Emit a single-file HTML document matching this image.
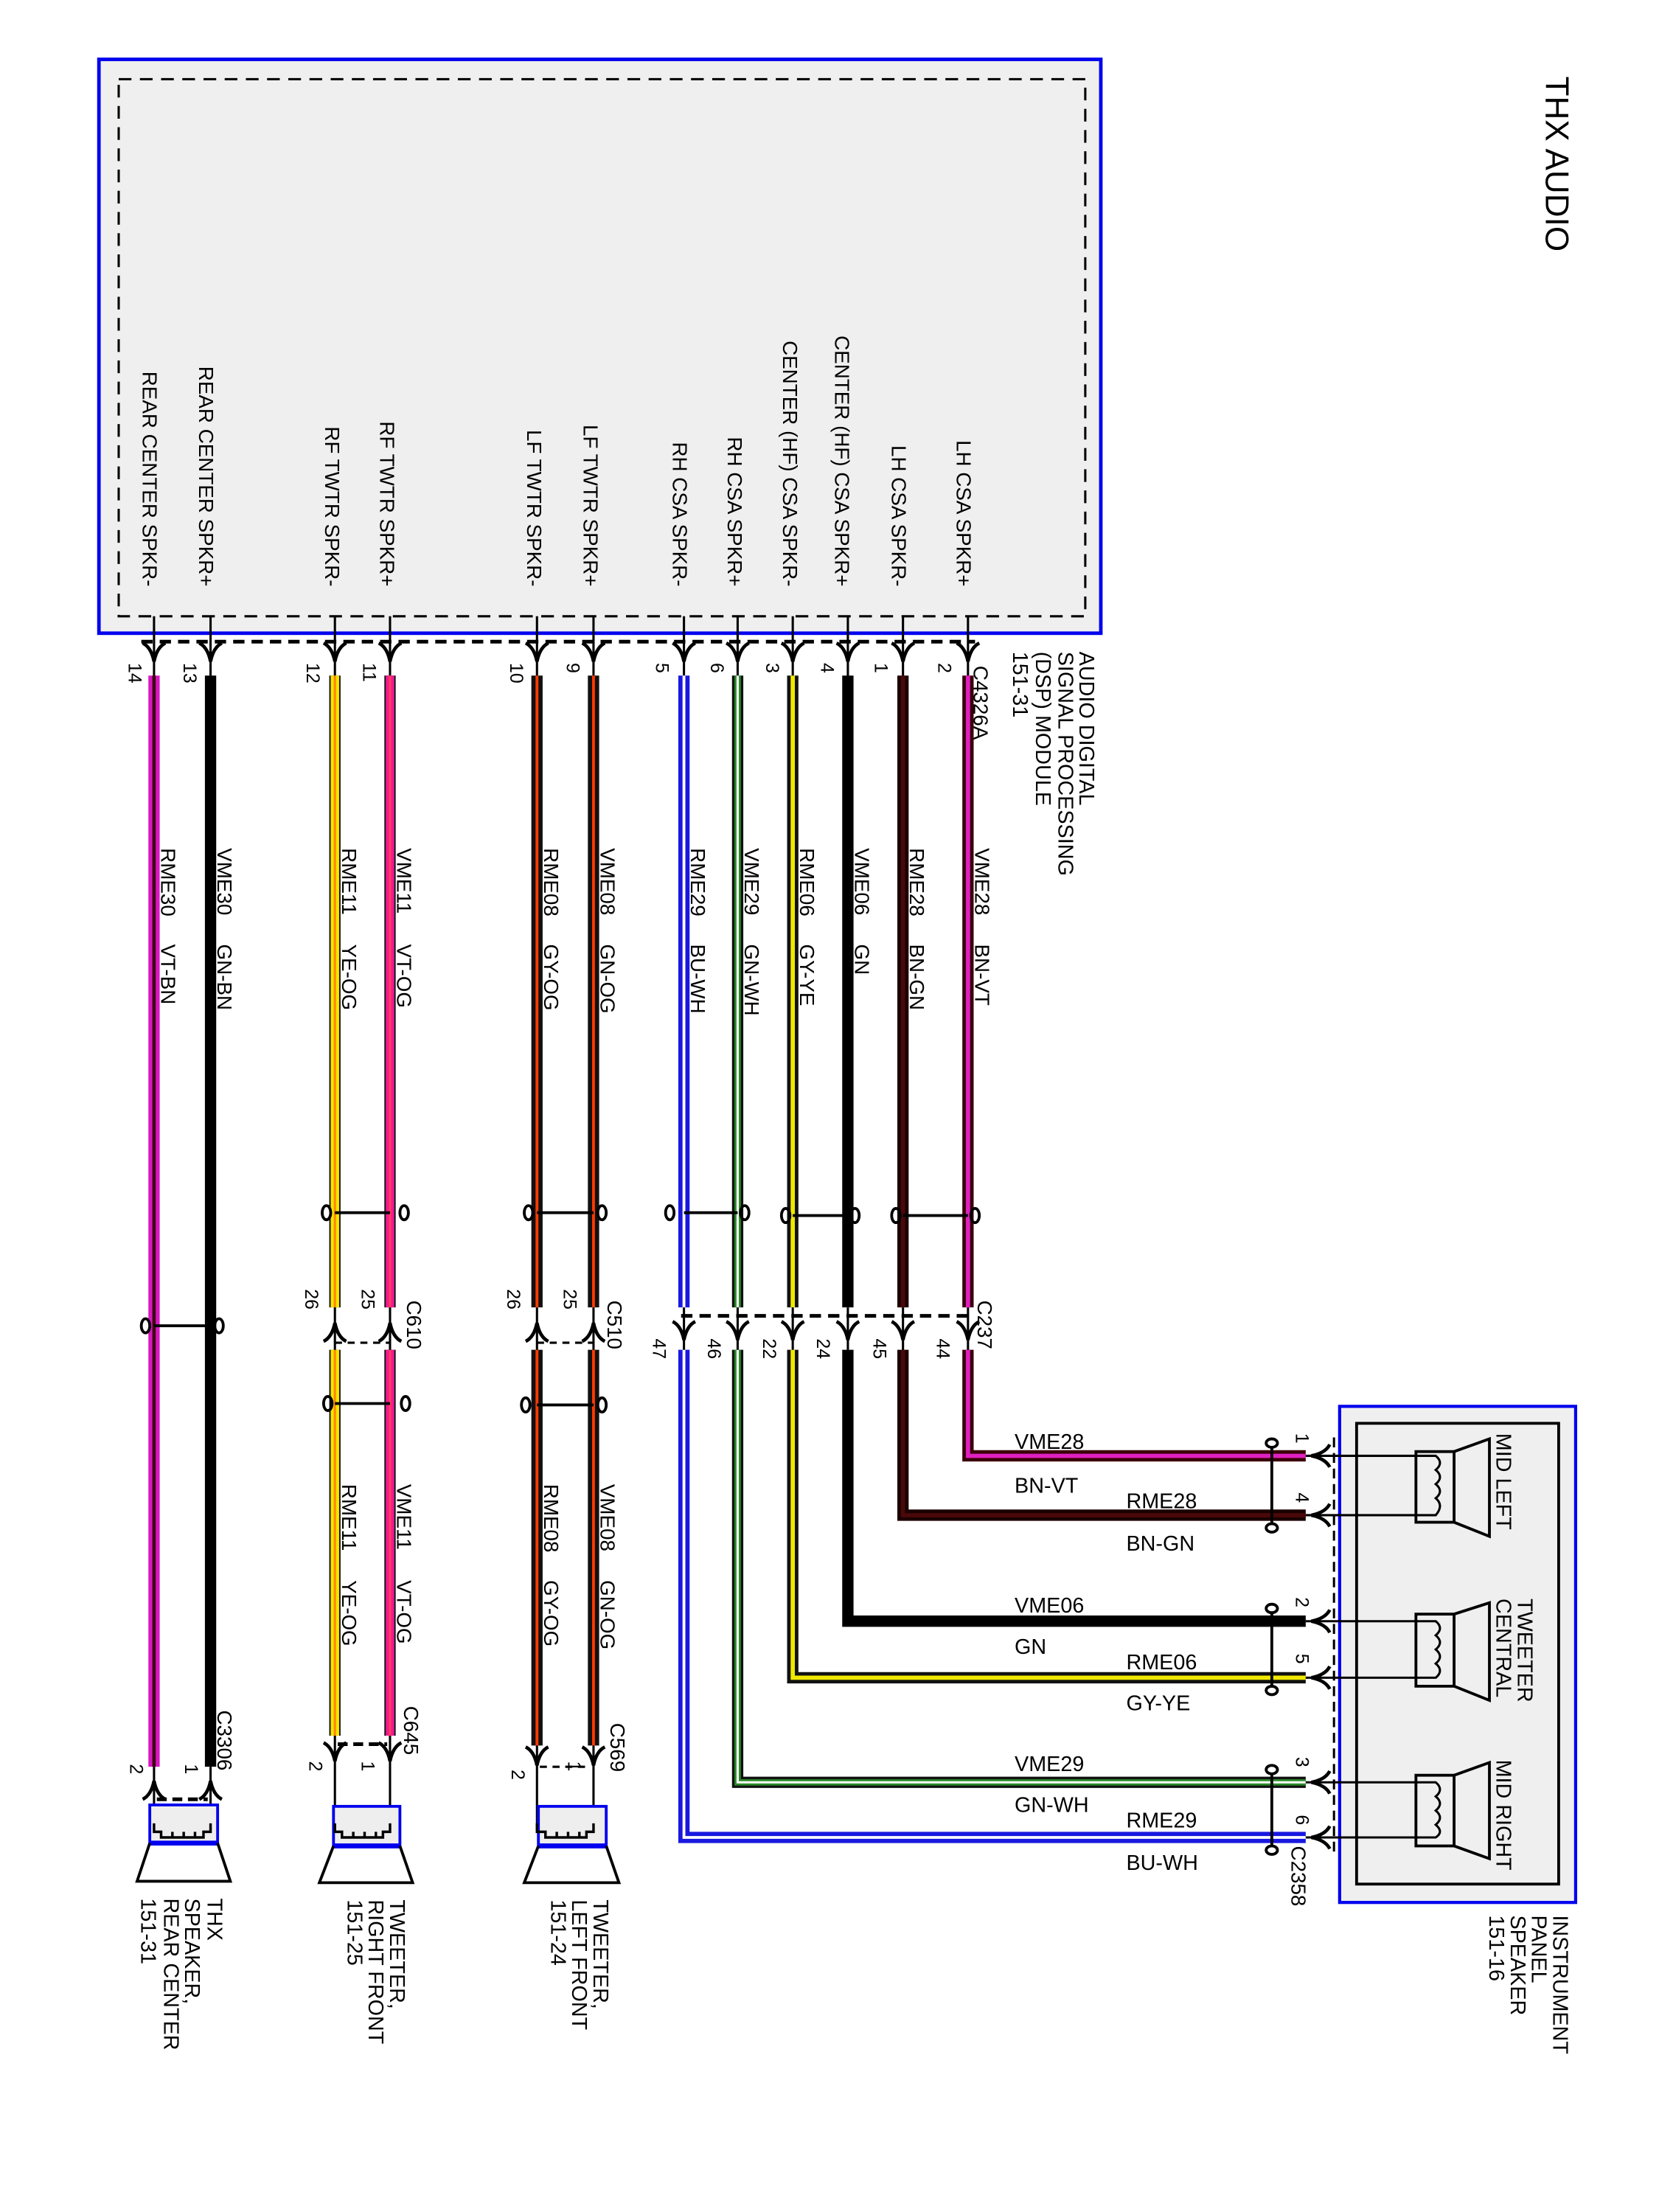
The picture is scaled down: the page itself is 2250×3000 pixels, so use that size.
<!DOCTYPE html>
<html><head><meta charset="utf-8"><style>
html,body{margin:0;padding:0;background:#fff}
svg{display:block}
text{font-family:"Liberation Sans",Arial,sans-serif;fill:#000}
</style></head><body>
<svg width="2250" height="3000" viewBox="0 0 1174 1565" preserveAspectRatio="none" xmlns="http://www.w3.org/2000/svg">
<defs>
<path id="ad" d="M-8,-7 Q-2,-4 0,6 Q2,-4 8,-7" fill="none" stroke="#000" stroke-width="2.4"/>
<path id="au" d="M-8,7 Q-2,4 0,-6 Q2,4 8,7" fill="none" stroke="#000" stroke-width="2.4"/>
<path id="al" d="M7,-8 Q4,-2 -6,0 Q4,2 7,8" fill="none" stroke="#000" stroke-width="2.4"/>
</defs>
<rect width="1174" height="1565" fill="#fff"/>

<!-- Title -->
<text transform="translate(1094,54) rotate(90)" font-size="23">THX AUDIO</text>

<!-- Module box -->
<rect x="70" y="42" width="709" height="406" fill="#efefef" stroke="#0000ee" stroke-width="2.5"/>
<rect x="84" y="56" width="684" height="380" fill="none" stroke="#000" stroke-width="1.6" stroke-dasharray="9,6"/>

<g font-size="14.5">
<text transform="translate(677,415) rotate(90)" text-anchor="end">LH CSA SPKR+</text>
<text transform="translate(631,415) rotate(90)" text-anchor="end">LH CSA SPKR-</text>
<text transform="translate(591,415) rotate(90)" text-anchor="end">CENTER (HF) CSA SPKR+</text>
<text transform="translate(554,415) rotate(90)" text-anchor="end">CENTER (HF) CSA SPKR-</text>
<text transform="translate(515,415) rotate(90)" text-anchor="end">RH CSA SPKR+</text>
<text transform="translate(476,415) rotate(90)" text-anchor="end">RH CSA SPKR-</text>
<text transform="translate(413,415) rotate(90)" text-anchor="end">LF TWTR SPKR+</text>
<text transform="translate(373,415) rotate(90)" text-anchor="end">LF TWTR SPKR-</text>
<text transform="translate(269,415) rotate(90)" text-anchor="end">RF TWTR SPKR+</text>
<text transform="translate(230,415) rotate(90)" text-anchor="end">RF TWTR SPKR-</text>
<text transform="translate(141,415) rotate(90)" text-anchor="end">REAR CENTER SPKR+</text>
<text transform="translate(101,415) rotate(90)" text-anchor="end">REAR CENTER SPKR-</text>
</g>

<!-- header dashed line -->
<line x1="100" y1="454" x2="690" y2="454" stroke="#000" stroke-width="2.6" stroke-dasharray="8,5"/>

<!-- thin pin lines from box -->
<g stroke="#000" stroke-width="1.6">
<line x1="685" y1="436" x2="685" y2="480"/><line x1="639" y1="436" x2="639" y2="480"/>
<line x1="600" y1="436" x2="600" y2="480"/><line x1="561" y1="436" x2="561" y2="480"/>
<line x1="522" y1="436" x2="522" y2="480"/><line x1="484" y1="436" x2="484" y2="480"/>
<line x1="420" y1="436" x2="420" y2="480"/><line x1="380" y1="436" x2="380" y2="480"/>
<line x1="276" y1="436" x2="276" y2="480"/><line x1="237" y1="436" x2="237" y2="480"/>
<line x1="149" y1="436" x2="149" y2="480"/><line x1="109" y1="436" x2="109" y2="480"/>
</g>
<g>
<use href="#ad" x="685" y="462"/><use href="#ad" x="639" y="462"/><use href="#ad" x="600" y="462"/>
<use href="#ad" x="561" y="462"/><use href="#ad" x="522" y="462"/><use href="#ad" x="484" y="462"/>
<use href="#ad" x="420" y="462"/><use href="#ad" x="380" y="462"/><use href="#ad" x="276" y="462"/>
<use href="#ad" x="237" y="462"/><use href="#ad" x="149" y="462"/><use href="#ad" x="109" y="462"/>
</g>
<g font-size="13">
<text transform="translate(664,469) rotate(90)">2</text>
<text transform="translate(619,469) rotate(90)">1</text>
<text transform="translate(581,469) rotate(90)">4</text>
<text transform="translate(542,469) rotate(90)">3</text>
<text transform="translate(503,469) rotate(90)">6</text>
<text transform="translate(464,469) rotate(90)">5</text>
<text transform="translate(401,469) rotate(90)">9</text>
<text transform="translate(361,469) rotate(90)">10</text>
<text transform="translate(257,469) rotate(90)">11</text>
<text transform="translate(217,469) rotate(90)">12</text>
<text transform="translate(130,469) rotate(90)">13</text>
<text transform="translate(91,469) rotate(90)">14</text>
<text transform="translate(689,471) rotate(90)" font-size="14.5">C4326A</text>
</g>
<g font-size="15">
<text transform="translate(764,461) rotate(90)">AUDIO DIGITAL</text>
<text transform="translate(749,461) rotate(90)">SIGNAL PROCESSING</text>
<text transform="translate(733,461) rotate(90)">(DSP) MODULE</text>
<text transform="translate(717,461) rotate(90)">151-31</text>
</g>

<!-- WIRES -->
<g fill="none" stroke-linejoin="miter">
<!-- VME28 BN-VT -->
<path d="M685,478V925M685,955V1030H924" stroke="#3a0008" stroke-width="8"/>
<path d="M685,478V925M685,955V1030H924" stroke="#e020c0" stroke-width="3"/>
<!-- RME28 BN-GN -->
<path d="M639,478V925M639,955V1072H924" stroke="#1a0000" stroke-width="8"/>
<path d="M639,478V925M639,955V1072H924" stroke="#4a0808" stroke-width="3"/>
<!-- VME06 GN -->
<path d="M600,478V925M600,955V1147H924" stroke="#000" stroke-width="8"/>
<!-- RME06 GY-YE -->
<path d="M561,478V925M561,955V1187H924" stroke="#111" stroke-width="8"/>
<path d="M561,478V925M561,955V1187H924" stroke="#f0e800" stroke-width="3"/>
<!-- VME29 GN-WH -->
<path d="M522,478V925M522,955V1261H924" stroke="#111" stroke-width="8"/>
<path d="M522,478V925M522,955V1261H924" stroke="#2a8a2a" stroke-width="4.5"/>
<path d="M522,478V925M522,955V1261H924" stroke="#fff" stroke-width="1.6"/>
<!-- RME29 BU-WH -->
<path d="M484,478V925M484,955V1300H924" stroke="#1818e0" stroke-width="8"/>
<path d="M484,478V925M484,955V1300H924" stroke="#fff" stroke-width="2"/>
<!-- VME08 / RME08 -->
<path d="M420,478V925M420,955V1235" stroke="#111" stroke-width="8"/>
<path d="M420,478V925M420,955V1235" stroke="#ff3a00" stroke-width="2"/>
<path d="M380,478V925M380,955V1235" stroke="#111" stroke-width="8"/>
<path d="M380,478V925M380,955V1235" stroke="#ff3a00" stroke-width="2"/>
<!-- VME11 / RME11 -->
<path d="M276,478V925M276,955V1228" stroke="#111" stroke-width="8"/>
<path d="M276,478V925M276,955V1228" stroke="#f01898" stroke-width="6"/>
<path d="M276,478V925M276,955V1228" stroke="#ff4050" stroke-width="1.6"/>
<path d="M237,478V925M237,955V1228" stroke="#111" stroke-width="8"/>
<path d="M237,478V925M237,955V1228" stroke="#f5e400" stroke-width="6"/>
<path d="M237,478V925M237,955V1228" stroke="#ff8800" stroke-width="1.6"/>
<!-- VME30 / RME30 -->
<path d="M149,478V1250" stroke="#000" stroke-width="8"/>
<path d="M109,478V1250" stroke="#d818c0" stroke-width="8"/>
<path d="M109,478V1250" stroke="#3a0010" stroke-width="2.4"/>
</g>

<!-- wire labels (vertical) -->
<g font-size="14.5">
<text transform="translate(690,600) rotate(90)">VME28</text><text transform="translate(690,668) rotate(90)">BN-VT</text>
<text transform="translate(644,600) rotate(90)">RME28</text><text transform="translate(644,668) rotate(90)">BN-GN</text>
<text transform="translate(605,600) rotate(90)">VME06</text><text transform="translate(605,668) rotate(90)">GN</text>
<text transform="translate(566,600) rotate(90)">RME06</text><text transform="translate(566,668) rotate(90)">GY-YE</text>
<text transform="translate(527,600) rotate(90)">VME29</text><text transform="translate(527,668) rotate(90)">GN-WH</text>
<text transform="translate(489,600) rotate(90)">RME29</text><text transform="translate(489,668) rotate(90)">BU-WH</text>
<text transform="translate(425,600) rotate(90)">VME08</text><text transform="translate(425,668) rotate(90)">GN-OG</text>
<text transform="translate(385,600) rotate(90)">RME08</text><text transform="translate(385,668) rotate(90)">GY-OG</text>
<text transform="translate(281,600) rotate(90)">VME11</text><text transform="translate(281,668) rotate(90)">VT-OG</text>
<text transform="translate(242,600) rotate(90)">RME11</text><text transform="translate(242,668) rotate(90)">YE-OG</text>
<text transform="translate(154,600) rotate(90)">VME30</text><text transform="translate(154,668) rotate(90)">GN-BN</text>
<text transform="translate(114,600) rotate(90)">RME30</text><text transform="translate(114,668) rotate(90)">VT-BN</text>
<text transform="translate(425,1050) rotate(90)">VME08</text><text transform="translate(425,1118) rotate(90)">GN-OG</text>
<text transform="translate(385,1050) rotate(90)">RME08</text><text transform="translate(385,1118) rotate(90)">GY-OG</text>
<text transform="translate(281,1050) rotate(90)">VME11</text><text transform="translate(281,1118) rotate(90)">VT-OG</text>
<text transform="translate(242,1050) rotate(90)">RME11</text><text transform="translate(242,1118) rotate(90)">YE-OG</text>
</g>

<!-- twist markers -->
<g fill="none" stroke="#000" stroke-width="2">
<line x1="639" y1="860" x2="685" y2="860"/><ellipse cx="634" cy="860" rx="3" ry="5"/><ellipse cx="690" cy="860" rx="3" ry="5"/>
<line x1="561" y1="860" x2="600" y2="860"/><ellipse cx="556" cy="860" rx="3" ry="5"/><ellipse cx="605" cy="860" rx="3" ry="5"/>
<line x1="484" y1="858" x2="522" y2="858"/><ellipse cx="474" cy="858" rx="3" ry="5"/><ellipse cx="527" cy="858" rx="3" ry="5"/>
<line x1="380" y1="858" x2="420" y2="858"/><ellipse cx="374" cy="858" rx="3" ry="5"/><ellipse cx="426" cy="858" rx="3" ry="5"/>
<line x1="237" y1="858" x2="276" y2="858"/><ellipse cx="231" cy="858" rx="3" ry="5"/><ellipse cx="286" cy="858" rx="3" ry="5"/>
<line x1="109" y1="938" x2="149" y2="938"/><ellipse cx="103" cy="938" rx="3" ry="5"/><ellipse cx="155" cy="938" rx="3" ry="5"/>
<line x1="380" y1="994" x2="420" y2="994"/><ellipse cx="372" cy="994" rx="3" ry="5"/><ellipse cx="426" cy="994" rx="3" ry="5"/>
<line x1="237" y1="993" x2="276" y2="993"/><ellipse cx="232" cy="993" rx="3" ry="5"/><ellipse cx="287" cy="993" rx="3" ry="5"/>
<line x1="900" y1="1024" x2="900" y2="1078"/><ellipse cx="900" cy="1021" rx="4" ry="3"/><ellipse cx="900" cy="1081" rx="4" ry="3"/>
<line x1="900" y1="1141" x2="900" y2="1193"/><ellipse cx="900" cy="1138" rx="4" ry="3"/><ellipse cx="900" cy="1196" rx="4" ry="3"/>
<line x1="900" y1="1255" x2="900" y2="1306"/><ellipse cx="900" cy="1252" rx="4" ry="3"/><ellipse cx="900" cy="1309" rx="4" ry="3"/>
</g>

<!-- C237 -->
<g stroke="#000" stroke-width="1.6">
<line x1="685" y1="925" x2="685" y2="955"/><line x1="639" y1="925" x2="639" y2="955"/>
<line x1="600" y1="925" x2="600" y2="955"/><line x1="561" y1="925" x2="561" y2="955"/>
<line x1="522" y1="925" x2="522" y2="955"/><line x1="484" y1="925" x2="484" y2="955"/>
<line x1="420" y1="925" x2="420" y2="955"/><line x1="380" y1="925" x2="380" y2="955"/>
<line x1="276" y1="925" x2="276" y2="955"/><line x1="237" y1="925" x2="237" y2="955"/>
</g>
<line x1="482" y1="931" x2="688" y2="931" stroke="#000" stroke-width="2.6" stroke-dasharray="8,5"/>
<line x1="380" y1="950" x2="420" y2="950" stroke="#000" stroke-width="1.6" stroke-dasharray="5,4"/>
<line x1="237" y1="950" x2="276" y2="950" stroke="#000" stroke-width="1.6" stroke-dasharray="5,4"/>
<use href="#ad" x="685" y="942"/><use href="#ad" x="639" y="942"/><use href="#ad" x="600" y="942"/>
<use href="#ad" x="561" y="942"/><use href="#ad" x="522" y="942"/><use href="#ad" x="484" y="942"/>
<use href="#au" x="420" y="942"/><use href="#au" x="380" y="942"/><use href="#au" x="276" y="942"/><use href="#au" x="237" y="942"/>
<g font-size="13">
<text transform="translate(663,947) rotate(90)">44</text>
<text transform="translate(618,947) rotate(90)">45</text>
<text transform="translate(578,947) rotate(90)">24</text>
<text transform="translate(540,947) rotate(90)">22</text>
<text transform="translate(501,947) rotate(90)">46</text>
<text transform="translate(462,947) rotate(90)">47</text>
<text transform="translate(399,912) rotate(90)">25</text>
<text transform="translate(359,912) rotate(90)">26</text>
<text transform="translate(256,912) rotate(90)">25</text>
<text transform="translate(216,912) rotate(90)">26</text>
<text transform="translate(92,1248) rotate(90)">2</text>
<text transform="translate(131,1248) rotate(90)">1</text>
<text transform="translate(219,1246) rotate(90)">2</text>
<text transform="translate(256,1246) rotate(90)">1</text>
<text transform="translate(362,1252) rotate(90)">2</text>
<text transform="translate(402,1246) rotate(90)">1</text>
</g>
<g font-size="14.5">
<text transform="translate(692,920) rotate(90)">C237</text>
<text transform="translate(430,920) rotate(90)">C510</text>
<text transform="translate(288,920) rotate(90)">C610</text>
<text transform="translate(432,1219) rotate(90)">C569</text>
<text transform="translate(286,1207) rotate(90)">C645</text>
<text transform="translate(154,1210) rotate(90)">C3306</text>
<text transform="translate(914,1306) rotate(90)">C2358</text>
</g>

<!-- bottom connectors -->
<g stroke="#000" stroke-width="1.6" fill="none">
<line x1="420" y1="1235" x2="420" y2="1292"/><line x1="380" y1="1235" x2="380" y2="1292"/>
<line x1="276" y1="1228" x2="276" y2="1292"/><line x1="237" y1="1228" x2="237" y2="1292"/>
<line x1="149" y1="1250" x2="149" y2="1292"/><line x1="109" y1="1250" x2="109" y2="1292"/>
</g>
<line x1="382" y1="1250" x2="418" y2="1250" stroke="#000" stroke-width="1.6" stroke-dasharray="5,4"/>
<line x1="239" y1="1234" x2="274" y2="1234" stroke="#000" stroke-width="2.6" stroke-dasharray="7,4"/>
<line x1="111" y1="1273" x2="147" y2="1273" stroke="#000" stroke-width="2.6" stroke-dasharray="7,4"/>
<use href="#ad" x="420" y="1243"/><use href="#ad" x="380" y="1243"/>
<use href="#ad" x="276" y="1240"/><use href="#ad" x="237" y="1240"/>
<use href="#au" x="149" y="1266"/><use href="#au" x="109" y="1266"/>

<!-- bottom speakers -->
<g stroke-width="2">
<rect x="106" y="1277" width="48" height="27" fill="#eee" stroke="#0000ee"/>
<line x1="106" y1="1304" x2="154" y2="1304" stroke="#0000ee" stroke-width="3.5"/>
<path d="M106,1304 L97,1331 H163 L154,1304" fill="none" stroke="#000"/>
<rect x="236" y="1278" width="47" height="28" fill="#eee" stroke="#0000ee"/>
<line x1="236" y1="1306" x2="283" y2="1306" stroke="#0000ee" stroke-width="3.5"/>
<path d="M236,1306 L226,1332 H292 L283,1306" fill="none" stroke="#000"/>
<rect x="381" y="1278" width="48" height="28" fill="#eee" stroke="#0000ee"/>
<line x1="381" y1="1306" x2="429" y2="1306" stroke="#0000ee" stroke-width="3.5"/>
<path d="M381,1306 L371,1332 H438 L429,1306" fill="none" stroke="#000"/>
</g>
<g fill="none" stroke="#000" stroke-width="1.8">
<path d="M109,1290 V1296 H114 V1300 H122 V1296 M122,1300 H130 V1296 M130,1300 H138 V1296 M138,1300 H144 V1296 H149 V1290"/>
<path d="M237,1290 V1296 H242 V1300 H250 V1296 M250,1300 H258 V1296 M258,1300 H266 V1296 M266,1300 H271 V1296 H276 V1290"/>
<path d="M380,1290 V1296 H386 V1300 H394 V1296 M394,1300 H402 V1296 M402,1300 H410 V1296 M410,1300 H415 V1296 H420 V1290"/>
</g>
<g font-size="15">
<text transform="translate(147,1343) rotate(90)">THX</text>
<text transform="translate(131,1343) rotate(90)">SPEAKER,</text>
<text transform="translate(116,1343) rotate(90)">REAR CENTER</text>
<text transform="translate(100,1343) rotate(90)">151-31</text>
<text transform="translate(276,1344) rotate(90)">TWEETER,</text>
<text transform="translate(261,1344) rotate(90)">RIGHT FRONT</text>
<text transform="translate(246,1344) rotate(90)">151-25</text>
<text transform="translate(420,1344) rotate(90)">TWEETER,</text>
<text transform="translate(405,1344) rotate(90)">LEFT FRONT</text>
<text transform="translate(390,1344) rotate(90)">151-24</text>
</g>

<!-- horizontal wire labels -->
<g font-size="15">
<text x="718" y="1025">VME28</text><text x="718" y="1056">BN-VT</text>
<text x="797" y="1067">RME28</text><text x="797" y="1097">BN-GN</text>
<text x="718" y="1141">VME06</text><text x="718" y="1170">GN</text>
<text x="797" y="1181">RME06</text><text x="797" y="1210">GY-YE</text>
<text x="718" y="1253">VME29</text><text x="718" y="1282">GN-WH</text>
<text x="797" y="1293">RME29</text><text x="797" y="1323">BU-WH</text>
</g>

<!-- instrument panel -->
<rect x="948" y="995" width="167" height="351" fill="#efefef" stroke="#0000ee" stroke-width="2.2"/>
<rect x="960" y="1007" width="143" height="326" fill="none" stroke="#000" stroke-width="2"/>
<line x1="944" y1="1017" x2="944" y2="1312" stroke="#000" stroke-width="1.6" stroke-dasharray="7,4"/>
<g stroke="#000" stroke-width="1.6">
<line x1="924" y1="1030" x2="1002" y2="1030"/><line x1="924" y1="1072" x2="1002" y2="1072"/>
<line x1="924" y1="1147" x2="1002" y2="1147"/><line x1="924" y1="1187" x2="1002" y2="1187"/>
<line x1="924" y1="1261" x2="1002" y2="1261"/><line x1="924" y1="1300" x2="1002" y2="1300"/>
</g>
<use href="#al" x="934" y="1030"/><use href="#al" x="934" y="1072"/><use href="#al" x="934" y="1147"/>
<use href="#al" x="934" y="1187"/><use href="#al" x="934" y="1261"/><use href="#al" x="934" y="1300"/>
<g font-size="13">
<text transform="translate(917,1014) rotate(90)">1</text>
<text transform="translate(917,1056) rotate(90)">4</text>
<text transform="translate(917,1130) rotate(90)">2</text>
<text transform="translate(917,1170) rotate(90)">5</text>
<text transform="translate(917,1243) rotate(90)">3</text>
<text transform="translate(917,1284) rotate(90)">6</text>
</g>
<g fill="none" stroke="#000" stroke-width="2">
<rect x="1002" y="1027" width="27" height="50"/>
<path d="M1029,1027 L1054,1018 V1087 L1029,1077"/>
<path d="M1002,1030 H1016 Q1022,1035 1016,1040 Q1022,1045 1016,1050 Q1022,1055 1016,1060 Q1022,1065 1016,1072 H1002" stroke-width="1.6"/>
<rect x="1002" y="1142" width="27" height="51"/>
<path d="M1029,1142 L1054,1134 V1203 L1029,1193"/>
<path d="M1002,1147 H1016 Q1022,1152 1016,1157 Q1022,1162 1016,1167 Q1022,1172 1016,1177 Q1022,1182 1016,1187 H1002" stroke-width="1.6"/>
<rect x="1002" y="1256" width="27" height="50"/>
<path d="M1029,1256 L1054,1247 V1315 L1029,1306"/>
<path d="M1002,1261 H1016 Q1022,1266 1016,1271 Q1022,1276 1016,1281 Q1022,1286 1016,1291 Q1022,1296 1016,1300 H1002" stroke-width="1.6"/>
</g>
<g font-size="15">
<text transform="translate(1059,1014) rotate(90)">MID LEFT</text>
<text transform="translate(1074,1131) rotate(90)">TWEETER</text>
<text transform="translate(1059,1131) rotate(90)">CENTRAL</text>
<text transform="translate(1059,1245) rotate(90)">MID RIGHT</text>
<text transform="translate(1099,1355) rotate(90)">INSTRUMENT</text>
<text transform="translate(1084,1355) rotate(90)">PANEL</text>
<text transform="translate(1069,1355) rotate(90)">SPEAKER</text>
<text transform="translate(1054,1355) rotate(90)">151-16</text>
</g>
</svg>
</body></html>
